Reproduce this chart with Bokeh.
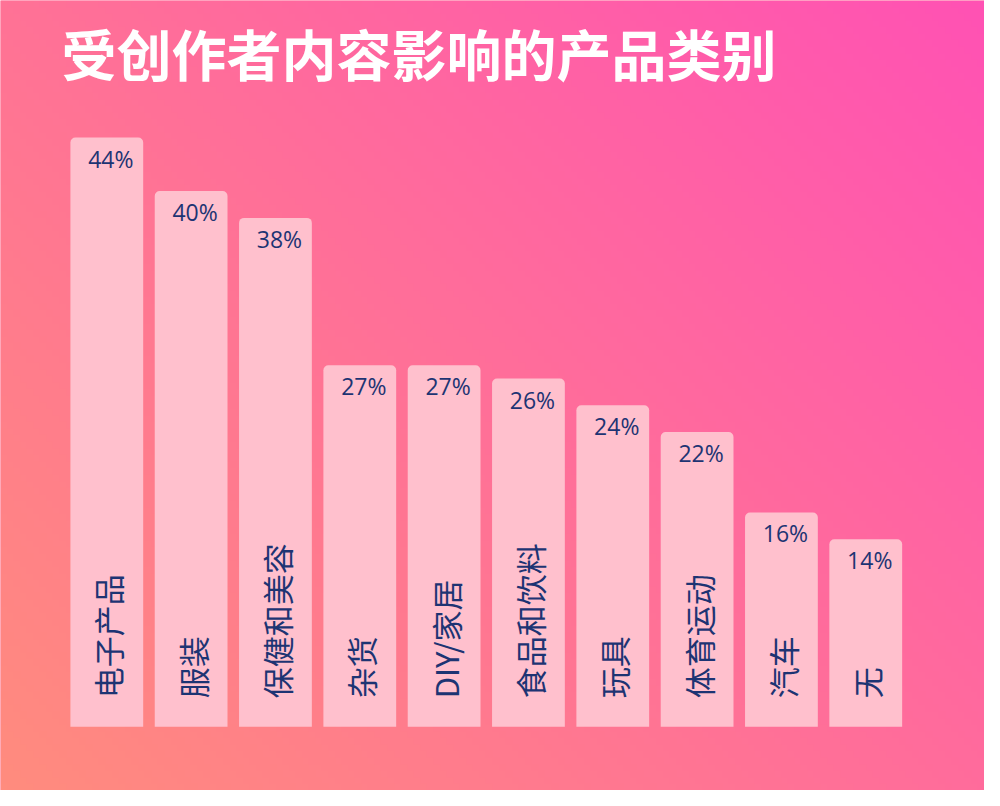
import numpy as np
from bokeh.plotting import figure
from bokeh.models import ColumnDataSource, Label, Range1d
from bokeh.core.properties import value
from bokeh.embed import file_html
from bokeh.resources import INLINE

# ---- data ----
title_text = "受创作者内容影响的产品类别"
categories = ["电子产品", "服装", "保健和美容", "杂货", "DIY/家居",
              "食品和饮料", "玩具", "体育运动", "汽车", "无"]
shares = [44, 40, 38, 27, 27, 26, 24, 22, 16, 14]
share_labels = [f"{v}%" for v in shares]

# ---- styling ----
W, H = 984, 790
NAVY = "#1D3473"
BAR = "#FFC0CD"
X0, X1 = -1.2605, 10.408
Y0, Y1 = -4.765, 54.235

xs = list(range(len(categories)))
src = ColumnDataSource(dict(x=xs, top=shares, pct=share_labels, cat=categories,
                            base=[0] * len(xs)))

p = figure(width=W, height=H, output_backend="svg", toolbar_location=None,
           x_range=Range1d(X0, X1), y_range=Range1d(Y0, Y1),
           min_border=0, outline_line_color=None)
p.axis.visible = False
p.grid.visible = False
p.background_fill_color = "#FF7098"
p.border_fill_color = "#FF7098"

# diagonal gradient background (bottom-left salmon -> top-right magenta)
ny, nx = 120, 150
gx = np.linspace(0, 1, nx)[None, :]
gy = np.linspace(0, 1, ny)[:, None]  # row 0 = bottom
t = (gx * 1000 + gy * 806) / 1806.0
c0 = np.array([255, 140, 126])
c1 = np.array([255, 82, 180])
img = np.empty((ny, nx), dtype=np.uint32)
view = img.view(dtype=np.uint8).reshape((ny, nx, 4))
for k in range(3):
    view[:, :, k] = np.clip(c0[k] + (c1[k] - c0[k]) * t, 0, 255).astype(np.uint8)
view[:, :, 3] = 255
p.image_rgba(image=[img], x=X0, y=Y0, dw=X1 - X0, dh=Y1 - Y0)

# bars
p.vbar(x="x", top="top", bottom="base", width=0.863, source=src,
       fill_color=BAR, line_color=None, border_radius=(5, 5, 0, 0))

# value labels
p.text(x="x", y="top", text="pct", source=src, x_offset=4, y_offset=21,
       text_align="center", text_baseline="middle", text_color=NAVY,
       text_font=value("Open Sans"), text_font_size="23px")

# category labels (rotated)
p.text(x="x", y=2.12, text="cat", source=src, angle=np.pi / 2, x_offset=1,
       text_align="left", text_baseline="middle", text_color=NAVY,
       text_font=value("Noto Sans CJK SC"), text_font_size="31px")

# title
p.add_layout(Label(x=61, y=H - 11, x_units="screen", y_units="screen",
                   text=title_text, text_color="white", text_font_size="55px",
                   text_font_style="bold", text_font="Noto Sans CJK SC",
                   text_baseline="top", text_align="left"))

open("out.html", "w").write(file_html(p, INLINE))
